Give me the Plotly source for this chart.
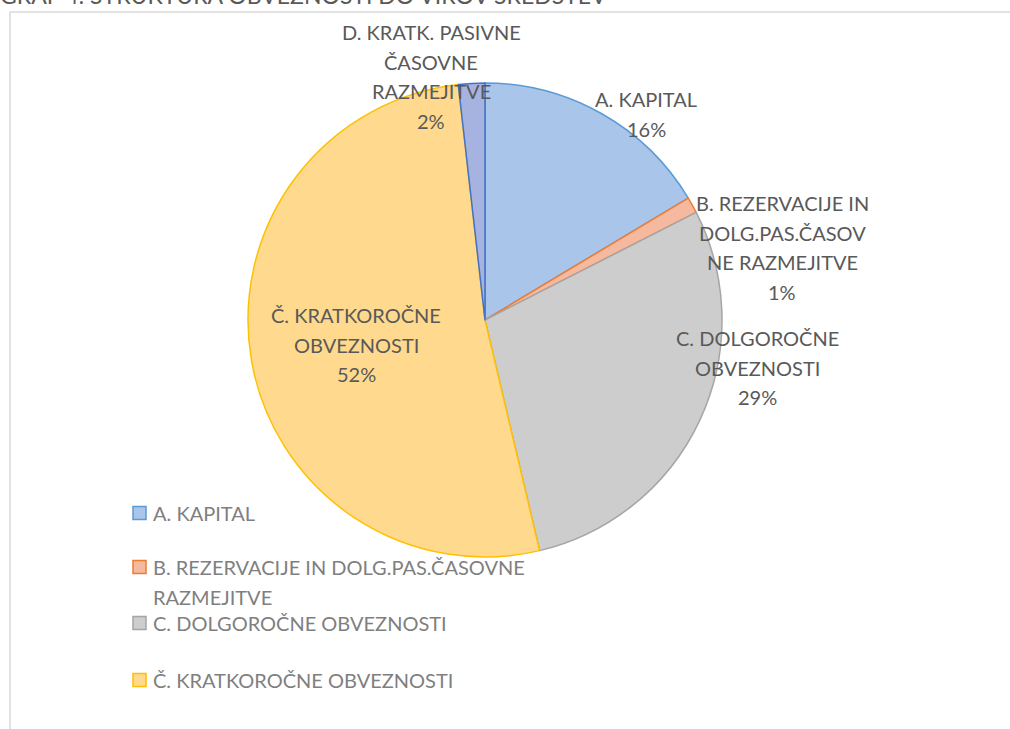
import plotly.graph_objects as go

W, H = 1010, 729

# ---- data ----
categories = ["A. KAPITAL",
              "B. REZERVACIJE IN DOLG.PAS.ČASOVNE RAZMEJITVE",
              "C. DOLGOROČNE OBVEZNOSTI",
              "Č. KRATKOROČNE OBVEZNOSTI",
              "D. KRATK. PASIVNE ČASOVNE RAZMEJITVE"]
shares = [16.4, 1.1, 28.8, 51.9, 1.8]
label_lines = [["A. KAPITAL"],
               ["B. REZERVACIJE IN", "DOLG.PAS.ČASOV", "NE RAZMEJITVE"],
               ["C. DOLGOROČNE", "OBVEZNOSTI"],
               ["Č. KRATKOROČNE", "OBVEZNOSTI"],
               ["D. KRATK. PASIVNE", "ČASOVNE", "RAZMEJITVE"]]
legend_lines = [["A. KAPITAL"],
                ["B. REZERVACIJE IN DOLG.PAS.ČASOVNE", "RAZMEJITVE"],
                ["C. DOLGOROČNE OBVEZNOSTI"],
                ["Č. KRATKOROČNE OBVEZNOSTI"]]
title_text = "GRAF 4: STRUKTURA OBVEZNOSTI DO VIROV SREDSTEV"

# ---- styles ----
fills = ["#A9C5EA", "#F5B9A0", "#CDCDCD", "#FFD98D", "#A6B3E0"]
edges = ["#5B9BD5", "#ED7D31", "#A5A5A5", "#FFC000", "#4472C4"]
FONT = "Lato"
FS = 20
LBL_COLOR = "#595959"
LEG_COLOR = "#7F7F7F"

def px(x):
    return x / W

def py(y):
    return 1 - y / H

cx, cy, r = 485, 320, 237

fig = go.Figure()
fig.add_trace(go.Pie(
    labels=categories, values=shares, sort=False, direction="clockwise",
    rotation=0, textinfo="none", hoverinfo="label+percent",
    marker=dict(colors=fills, line=dict(color=edges, width=1.5)),
    domain=dict(x=[px(cx - r), px(cx + r)], y=[py(cy + r), py(cy - r)]),
    showlegend=False,
))

total = sum(shares)
# label block centers (pixel positions) and line spacing
label_pos = [(646, 99), (782, 203), (757, 338), (356, 315), (431, 32)]
LS = 29.6
annotations = []
for i, lines in enumerate(label_lines):
    x0, y0 = label_pos[i]
    all_lines = lines + [f"{round(shares[i] / total * 100)}%"]
    for k, t in enumerate(all_lines):
        annotations.append(dict(
            x=px(x0), y=py(y0 + k * LS), xref="paper", yref="paper",
            text=t, showarrow=False, xanchor="center", yanchor="middle",
            font=dict(family=FONT, size=FS, color=LBL_COLOR)))

# manual legend
leg_rows = [513, 567, 623, 680]
shapes = []
for i, lines in enumerate(legend_lines):
    yc = leg_rows[i]
    shapes.append(dict(type="rect", xref="paper", yref="paper",
                       x0=px(133), x1=px(146), y0=py(yc + 6.5), y1=py(yc - 6.5),
                       fillcolor=fills[i], line=dict(color=edges[i], width=1.5)))
    for k, t in enumerate(lines):
        annotations.append(dict(
            x=px(151), y=py(yc + k * LS), xref="paper", yref="paper",
            text=t, showarrow=False, xanchor="left", yanchor="middle",
            font=dict(family=FONT, size=FS, color=LEG_COLOR)))

# chart area border (cropped)
shapes.append(dict(type="rect", xref="paper", yref="paper",
                   x0=px(10), x1=px(W + 20), y0=py(H + 20), y1=py(12),
                   line=dict(color="#D9D9D9", width=1.5), fillcolor="rgba(0,0,0,0)",
                   layer="below"))

# cropped title at the very top
annotations.append(dict(
    x=px(-2), y=py(11), xref="paper", yref="paper", text=title_text,
    showarrow=False, xanchor="left", yanchor="bottom",
    font=dict(family=FONT, size=23, color="#595959")))

fig.update_layout(
    width=W, height=H, margin=dict(l=0, r=0, t=0, b=0),
    paper_bgcolor="white", plot_bgcolor="white",
    annotations=annotations, shapes=shapes,
)
fig.write_html("out.html", config={"displayModeBar": False},
               post_script="document.body.style.margin='0px';document.body.style.padding='0px';")
